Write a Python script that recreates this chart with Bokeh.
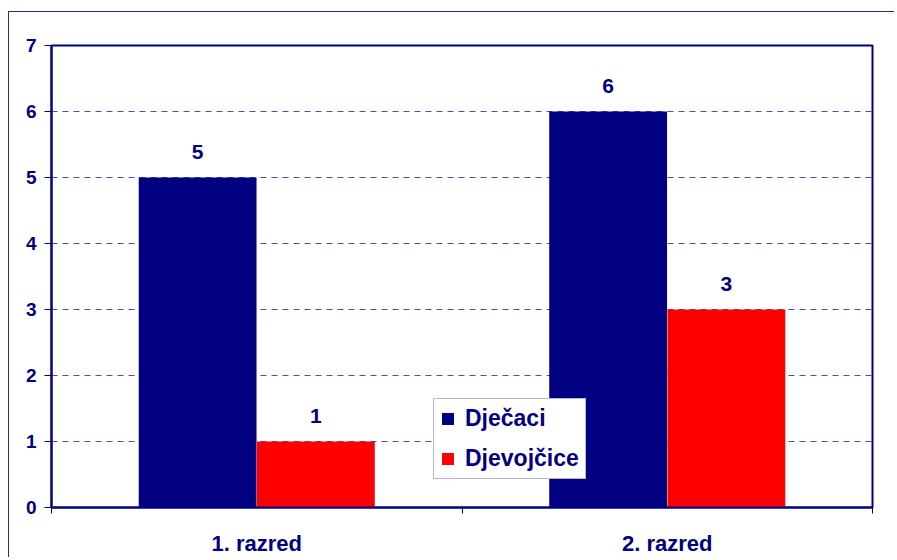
from bokeh.plotting import figure
from bokeh.models import (ColumnDataSource, FixedTicker, Legend, LegendItem,
                          LabelSet, Range1d)
from bokeh.core.properties import value
from bokeh.transform import dodge
from bokeh.embed import file_html
from bokeh.resources import INLINE

categories = ["1. razred", "2. razred"]
djecaci = [5, 6]
djevojcice = [1, 3]
series_names = ["Dječaci", "Djevojčice"]
y_ticks = [0, 1, 2, 3, 4, 5, 6, 7]

NAVY = "#000080"
RED = "#ff0000"
FONT = "Liberation Sans"

xpos = [i + 0.5 for i in range(len(categories))]
src = ColumnDataSource(dict(
    x=xpos, cat=categories, d=djecaci, g=djevojcice,
    dl=[str(v) for v in djecaci], gl=[str(v) for v in djevojcice],
))

p = figure(width=886, height=546, output_backend="svg", toolbar_location=None,
           x_range=Range1d(0, len(categories)), y_range=Range1d(0, 7),
           min_border_left=42, min_border_right=23, min_border_top=33,
           min_border_bottom=51)
p.margin = (11, 0, 0, 8)
p.stylesheets = [":host { border-left: 1px solid #2a2a96; border-top: 1px solid #2a2a96; }"]

p.outline_line_color = NAVY
p.outline_line_width = 2

bw = 0.287
r1 = p.vbar(x=dodge("x", -0.144, range=p.x_range), top="d", width=bw, source=src,
            fill_color=NAVY, line_color=None)
r2 = p.vbar(x=dodge("x", 0.144, range=p.x_range), top="g", width=bw, source=src,
            fill_color=RED, line_color=None)

for col, lab, off in (("d", "dl", -0.144), ("g", "gl", 0.144)):
    p.add_layout(LabelSet(x=dodge("x", off, range=p.x_range), y=col, text=lab,
                          source=src, text_align="center", text_baseline="bottom",
                          y_offset=19, text_font=value(FONT),
                          text_font_style="bold",
                          text_font_size="21px", text_color=NAVY))

# x axis
xa = p.xaxis[0]
xa.ticker = FixedTicker(ticks=xpos, minor_ticks=[0, 1, 2])
xa.major_label_overrides = {x: c for x, c in zip(xpos, categories)}
xa.major_tick_line_color = None
xa.major_tick_out = 0
xa.major_tick_in = 0
xa.minor_tick_line_color = NAVY
xa.minor_tick_out = 6
xa.minor_tick_in = 0
xa.axis_line_color = NAVY
xa.axis_line_width = 2
xa.major_label_text_font = FONT
xa.major_label_text_font_style = "bold"
xa.major_label_text_font_size = "22px"
xa.major_label_text_color = NAVY
xa.major_label_standoff = 17

ya = p.yaxis[0]
ya.ticker = FixedTicker(ticks=y_ticks)
ya.minor_tick_line_color = None
ya.major_tick_line_color = NAVY
ya.major_tick_out = 7
ya.major_tick_in = 0
ya.axis_line_color = NAVY
ya.axis_line_width = 2
ya.major_label_text_font = FONT
ya.major_label_text_font_style = "bold"
ya.major_label_text_font_size = "19px"
ya.major_label_text_color = NAVY
ya.major_label_standoff = 8

p.xgrid.grid_line_color = None
p.ygrid.grid_line_color = "#4d4dad"
p.ygrid.grid_line_dash = "6 5"
p.ygrid.grid_line_width = 1.2

legend = Legend(items=[LegendItem(label=series_names[0], renderers=[r1]),
                       LegendItem(label=series_names[1], renderers=[r2])],
                location=(382, 28), orientation="vertical",
                glyph_width=15, glyph_height=15, label_standoff=10,
                spacing=13, padding=6, margin=0,
                label_text_font=FONT, label_text_font_style="bold",
                label_text_font_size="23px", label_text_color=NAVY,
                border_line_color="#7070a8", border_line_width=1,
                background_fill_color="white", background_fill_alpha=1)
p.add_layout(legend, "center")

open("out.html", "w").write(file_html(p, INLINE))
